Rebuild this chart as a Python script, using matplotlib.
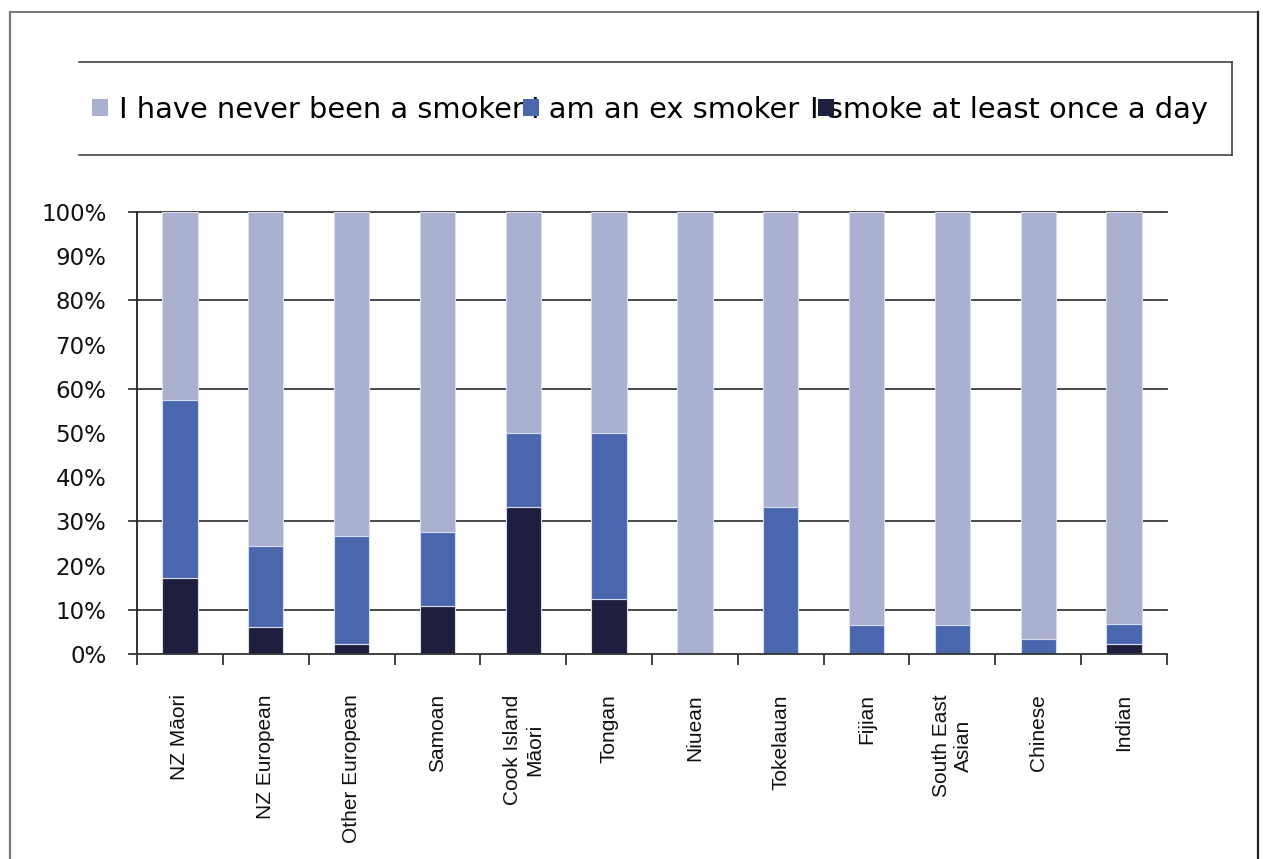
import matplotlib
matplotlib.use("Agg")
import matplotlib.pyplot as plt
from matplotlib.lines import Line2D
from matplotlib.patches import Rectangle
import numpy as np

# ---------------- data ----------------
categories = ["NZ Māori", "NZ European", "Other European", "Samoan",
              "Cook Island\nMāori", "Tongan", "Niuean", "Tokelauan",
              "Fijian", "South East\nAsian", "Chinese", "Indian"]
daily = [17.3, 6.2, 2.2, 10.9, 33.3, 12.5, 0.0, 0.0, 0.0, 0.0, 0.0, 2.2]
ex_smoker = [40.2, 18.3, 24.6, 16.8, 16.7, 37.5, 0.0, 33.3, 6.5, 6.5, 3.3, 4.6]
never = [42.5, 75.5, 73.2, 72.3, 50.0, 50.0, 100.0, 66.7, 93.5, 93.5, 96.7, 93.2]
series_names = ["I have never been a smoker", "I am an ex smoker",
                "I smoke at least once a day"]
ytick_values = [0, 10, 20, 30, 40, 50, 60, 70, 80, 90, 100]
ytick_labels = ["0%", "10%", "20%", "30%", "40%", "50%", "60%", "70%",
                "80%", "90%", "100%"]
gridline_values = [10, 30, 60, 80, 100]

# ---------------- style ----------------
c_never = "#AAB0D0"
c_ex = "#4A67AE"
c_daily = "#1E1F3F"
W, H = 1263, 859
fig = plt.figure(figsize=(W / 100, H / 100), dpi=100)
fig.patch.set_facecolor("white")

def fx(px):
    return px / W

def fy(py):
    return 1 - py / H

ax = fig.add_axes([fx(137), fy(654), fx(1167) - fx(137), fy(212) - fy(654)])
x = np.arange(len(categories))
bw = 0.41
edge = dict(edgecolor="#D8DCEC", linewidth=0.8)
ax.bar(x, daily, bw, color=c_daily, zorder=3, **edge)
ax.bar(x, ex_smoker, bw, bottom=daily, color=c_ex, zorder=3, **edge)
bottom2 = [d + e for d, e in zip(daily, ex_smoker)]
ax.bar(x, never, bw, bottom=bottom2, color=c_never, zorder=3, **edge)

ax.set_xlim(-0.5, len(categories) - 0.5)
ax.set_ylim(0, 100)
for g in gridline_values:
    ax.axhline(g, xmin=-0.008, xmax=1, color="#3a3a3a", linewidth=1.3,
               zorder=1, clip_on=False)

for s in ["top", "right"]:
    ax.spines[s].set_visible(False)
ax.spines["left"].set_color("#222222")
ax.spines["left"].set_linewidth(1.3)
ax.spines["bottom"].set_color("#333333")
ax.spines["bottom"].set_linewidth(1.3)
ax.spines["bottom"].set_bounds(-0.5 - 0.09, len(categories) - 0.5)
ax.spines["bottom"].set_zorder(4)

ax.set_yticks(ytick_values)
ax.set_yticklabels(ytick_labels, family="DejaVu Sans", fontsize=16.5,
                   color="#111111")
ax.tick_params(axis="y", length=0, pad=22)

ax.set_xticks(x)
ax.set_xticklabels(categories, rotation=90, va="top", ha="center",
                   multialignment="center",
                   family="Liberation Sans",
                   fontsize=15, color="#111111", linespacing=1.2)
ax.tick_params(axis="x", which="major", length=0, pad=29)
ax.set_xticks(np.arange(-0.5, len(categories), 1.0), minor=True)
ax.tick_params(axis="x", which="minor", length=8, width=1.3,
               color="#333333", direction="out")

# ---------------- legend (manual, overlapping like the original) -------
legend_squares = [92, 523, 818]
legend_texts_x = [119, 531, 810]
for sx, tx, name, col in zip(legend_squares, legend_texts_x, series_names,
                             [c_never, c_ex, c_daily]):
    fig.text(fx(tx), fy(118), name, family="DejaVu Sans", fontsize=20.8,
             color="black", ha="left", va="baseline", zorder=2)
    fig.patches.append(Rectangle((fx(sx), fy(116)), fx(16), 17 / H,
                                 transform=fig.transFigure, facecolor=col,
                                 edgecolor="none", zorder=3))

lc = "#333333"
fig.add_artist(Line2D([fx(79), fx(1232)], [fy(62), fy(62)], color=lc, lw=1.1))
fig.add_artist(Line2D([fx(79), fx(1232)], [fy(155), fy(155)], color=lc, lw=1.1))
fig.add_artist(Line2D([fx(1232), fx(1232)], [fy(62), fy(155)], color=lc, lw=1.1))

# outer border
fig.add_artist(Line2D([fx(10), fx(10)], [fy(12), 0], color="#7a7a7a", lw=1.6))
fig.add_artist(Line2D([fx(10), fx(1258)], [fy(12), fy(12)], color="#7a7a7a", lw=1.4))
fig.add_artist(Line2D([fx(1258), fx(1258)], [fy(12), 0], color="#222222", lw=1.6))

fig.savefig("out.png", dpi=100, facecolor="white")
